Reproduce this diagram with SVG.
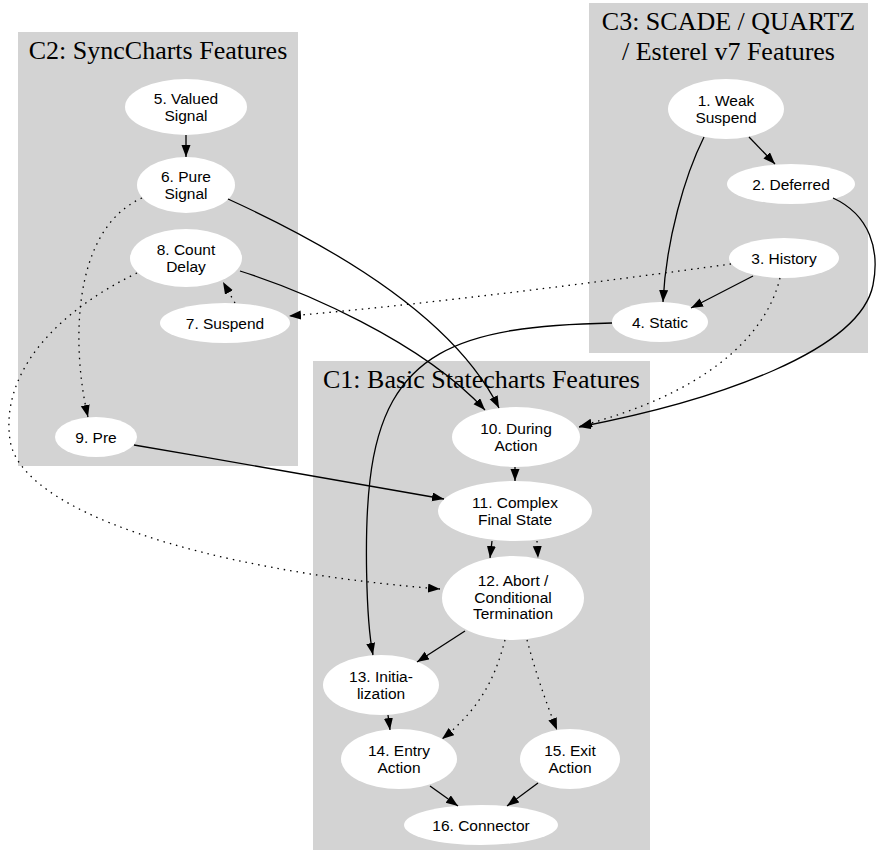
<svg xmlns="http://www.w3.org/2000/svg" width="876" height="853" viewBox="0 0 876 853">
<style>
.cl{fill:#d3d3d3;stroke:none}
.ttl{font-family:"Liberation Serif","Times New Roman",serif;font-size:26px;fill:#000;text-anchor:middle}
.nd ellipse{fill:#fff;stroke:none}
.nd text{font-family:"Liberation Sans",Arial,sans-serif;font-size:15.5px;fill:#000;text-anchor:middle}
.e{fill:none;stroke:#000;stroke-width:1.3;marker-end:url(#ah)}
.d{stroke-dasharray:1.5,5}
</style>
<defs>
<marker id="ah" markerUnits="userSpaceOnUse" markerWidth="13" markerHeight="10" refX="12" refY="4.5" orient="auto">
<path d="M0,0 L12,4.5 L0,9 z" fill="#000"/>
</marker>
</defs>
<g id="clusters">
<g id="C2"><rect class="cl" x="18" y="32" width="280" height="434"/><text class="ttl" x="158" y="59">C2: SyncCharts Features</text></g>
<g id="C3"><rect class="cl" x="589" y="3" width="279" height="350"/><text class="ttl" x="728.5" y="30">C3: SCADE / QUARTZ</text><text class="ttl" x="728.5" y="60">/ Esterel v7 Features</text></g>
<g id="C1"><rect class="cl" x="313" y="361" width="337" height="489"/><text class="ttl" x="481.5" y="388">C1: Basic Statecharts Features</text></g>
</g>
<g id="nodes">
<g id="n1" class="nd"><ellipse cx="726" cy="109" rx="58" ry="30"/><text x="726" y="106">1. Weak</text><text x="726" y="122.5">Suspend</text></g>
<g id="n2" class="nd"><ellipse cx="791" cy="184" rx="64" ry="20"/><text x="791" y="189.5">2. Deferred</text></g>
<g id="n3" class="nd"><ellipse cx="784" cy="258" rx="55" ry="20"/><text x="784" y="263.5">3. History</text></g>
<g id="n4" class="nd"><ellipse cx="660" cy="322" rx="48" ry="20"/><text x="660" y="327.5">4. Static</text></g>
<g id="n5" class="nd"><ellipse cx="186" cy="107" rx="61" ry="28"/><text x="186" y="104">5. Valued</text><text x="186" y="120.5">Signal</text></g>
<g id="n6" class="nd"><ellipse cx="186" cy="185" rx="49" ry="28"/><text x="186" y="182">6. Pure</text><text x="186" y="198.5">Signal</text></g>
<g id="n7" class="nd"><ellipse cx="225" cy="323" rx="65" ry="20"/><text x="225" y="328.5">7. Suspend</text></g>
<g id="n8" class="nd"><ellipse cx="186" cy="258" rx="56" ry="29"/><text x="186" y="255">8. Count</text><text x="186" y="271.5">Delay</text></g>
<g id="n9" class="nd"><ellipse cx="96" cy="437" rx="41" ry="20"/><text x="96" y="442.5">9. Pre</text></g>
<g id="n10" class="nd"><ellipse cx="516" cy="437" rx="64" ry="30"/><text x="516" y="434">10. During</text><text x="516" y="450.5">Action</text></g>
<g id="n11" class="nd"><ellipse cx="515" cy="511" rx="77" ry="30"/><text x="515" y="508">11. Complex</text><text x="515" y="524.5">Final State</text></g>
<g id="n12" class="nd"><ellipse cx="513" cy="598" rx="71" ry="42"/><text x="513" y="586">12. Abort /</text><text x="513" y="602.5">Conditional</text><text x="513" y="619">Termination</text></g>
<g id="n13" class="nd"><ellipse cx="381" cy="685" rx="58" ry="30"/><text x="381" y="682">13. Initia-</text><text x="381" y="698.5">lization</text></g>
<g id="n14" class="nd"><ellipse cx="399" cy="759" rx="58" ry="30"/><text x="399" y="756">14. Entry</text><text x="399" y="772.5">Action</text></g>
<g id="n15" class="nd"><ellipse cx="570" cy="759" rx="50" ry="30"/><text x="570" y="756">15. Exit</text><text x="570" y="772.5">Action</text></g>
<g id="n16" class="nd"><ellipse cx="481" cy="825" rx="77" ry="20"/><text x="481" y="830.5">16. Connector</text></g>
</g>
<g id="edges">
<path id="e5_6" class="e" d="M186,135 L186,157"/>
<path id="e6_10" class="e" d="M228,199 C340,250 455,320 499,408"/>
<path id="e8_10" class="e" d="M240,271 C300,290 420,340 485,410"/>
<path id="e9_11" class="e" d="M134,445 C240,463 350,482 444,499"/>
<path id="e4_13" class="e" d="M612,323 C460,326 385,350 370,480 C364,530 366,620 373,655"/>
<path id="e1_4" class="e" d="M704,137 C685,175 666,240 663,302"/>
<path id="e1_2" class="e" d="M749,137 L775,164"/>
<path id="e2_10" class="e" d="M833,198 C870,215 880,250 873,285 C860,350 720,400 579,427"/>
<path id="e3_4" class="e" d="M753,276 L691,308"/>
<path id="e10_11" class="e" d="M515,467 L515,481"/>
<path id="e11_12a" class="e" d="M492,541 L490,558"/>
<path id="e11_12b" class="e d" d="M537,541 L538,558"/>
<path id="e12_13" class="e" d="M465,631 L417,662"/>
<path id="e12_14" class="e d" d="M505,640 C497,670 485,705 442,739"/>
<path id="e12_15" class="e d" d="M527,640 C535,670 545,700 557,730"/>
<path id="e13_14" class="e" d="M388,715 L390,730"/>
<path id="e14_16" class="e" d="M430,786 L458,806"/>
<path id="e15_16" class="e" d="M538,783 L507,806"/>
<path id="e6_9" class="e d" d="M142,198 C70,230 72,350 88,417"/>
<path id="e8_12" class="e d" d="M137,273 C60,310 0,370 10,440 C20,510 200,570 440,589"/>
<path id="e7_8" class="e d" d="M235,303 L223,282"/>
<path id="e3_7" class="e d" d="M731,264 C600,282 420,305 289,316"/>
<path id="e3_10" class="e d" d="M780,278 C765,340 700,395 580,426"/>
</g>
</svg>
